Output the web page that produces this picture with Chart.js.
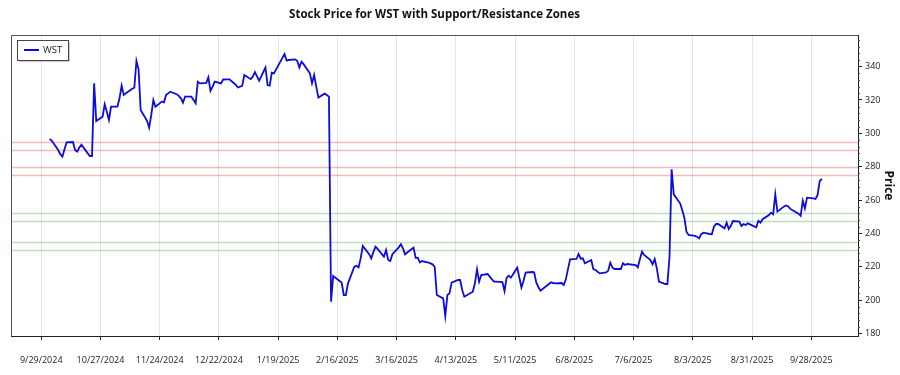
<!DOCTYPE html>
<html>
<head>
<meta charset="utf-8">
<script src="https://cdn.jsdelivr.net/npm/chart.js@4.4.1/dist/chart.umd.min.js"></script>
<style>
  html, body { margin: 0; padding: 0; background: #fff; }
  #wrap { width: 900px; height: 375px; }
</style>
</head>
<body>
<div id="wrap"><canvas id="chartWST"></canvas></div>
<script>
const chartTitle = "Stock Price for WST with Support/Resistance Zones";
const seriesName = "WST";
const axisTitle = "Price";

// trading window, weekends and these market holidays are skipped
const firstDay = "2024-10-03";
const lastDay = "2025-10-03";
const holidays = ["2024-11-28", "2024-12-25", "2025-01-01", "2025-01-09", "2025-01-20",
    "2025-02-17", "2025-04-18", "2025-05-26", "2025-06-19", "2025-07-04", "2025-09-01"];

// closing prices, one per trading day (week by week)
const prices = [
    296.6, 295.5,
    290, 287.5, 286, 290.5, 294.6,
    294.8, 290, 289, 291.5, 293.2,
    288, 286.4, 286.4, 330, 307.4,
    310, 317.4, 313, 308, 316,
    316, 321, 328.6, 323, 324,
    326.7, 327.4, 343.4, 338.5, 314,
    307.5, 303.4, 311, 320, 316,
    319, 318.6, 323, 325,
    323.5, 322.5, 321, 318.4, 322,
    322, 320, 318, 331, 330,
    330.3, 333.6, 325.5, 328, 331,
    330, 332.3, 332.4, 332.4,
    329, 327.5, 328.5, 335,
    332.5, 334, 336.8, 331.6,
    339.5, 329, 328.6, 336.4, 336,
    345.3, 347.6, 343.6, 344,
    344.4, 343.5, 339.5, 343, 341.5,
    336, 330, 335, 328, 321.5,
    323.8, 323, 322, 199, 214.4,
    210.5, 203, 203, 210,
    220, 220.5, 219.5, 225, 232.4,
    227.5, 225, 228.7, 232, 230.7,
    226, 230, 224, 223.4, 227.5,
    231.6, 233.5, 231, 227.4, 228.5,
    231.5, 225.3, 225.4, 222.5, 223.4,
    222.5, 222, 221.4, 219.8, 203,
    201, 190.4, 203, 204, 210.4,
    212, 212, 206, 202,
    205, 210, 218.4, 211, 215,
    215.6, 214, 212.5, 211, 211,
    210.8, 205.4, 213.4, 214.6, 213.4,
    219.4, 213.5, 207.5, 211.5, 216.5,
    216.8, 216.6, 210.5, 207.8, 205.6,
    209.6, 210.6, 210.2, 210,
    210.2, 209, 212.4, 218.5, 224.4,
    224.6, 227.6, 224.8, 225, 222,
    224, 218.6, 218, 216,
    216.5, 217.5, 222.4, 219.5, 218.6,
    218.6, 222, 221, 221.6,
    221, 219.6, 224.5, 229, 227,
    224, 221.4, 224.6, 219, 211,
    209.6, 209.6, 226, 278.4, 263.4,
    258, 254, 249.5, 241, 239,
    238.5, 238, 237, 239.5, 240.4,
    239.6, 239.4, 244, 245.6, 245.6,
    243, 246.4, 242.6, 244.5, 247.4,
    247, 244.4, 245.6, 245, 246,
    243.6, 247.5, 246.4, 248.5,
    251, 252.4, 251.4, 263.4, 253,
    256, 256.7, 256.3, 254.8, 254,
    251.8, 250.5, 259.6, 255, 261.4,
    261, 260.6, 263, 271.4, 272.6
];

const resistanceLevels = [275, 280, 290, 295];
const supportLevels = [230, 235, 247.5, 252];

const tickDates = ["2024-09-29", "2024-10-27", "2024-11-24", "2024-12-22", "2025-01-19",
    "2025-02-16", "2025-03-16", "2025-04-13", "2025-05-11", "2025-06-08",
    "2025-07-06", "2025-08-03", "2025-08-31", "2025-09-28"];
const priceTicks = [180, 200, 220, 240, 260, 280, 300, 320, 340];
const minorStep = 4;

const FONT = "'Open Sans', 'Noto Sans', sans-serif";

function dayNum(s) {
    const [y, m, d] = s.split("-").map(Number);
    return Date.UTC(y, m - 1, d) / 864e5;
}

function fmtDay(n) {
    const d = new Date(Math.round(n) * 864e5);
    return (d.getUTCMonth() + 1) + "/" + d.getUTCDate() + "/" + d.getUTCFullYear();
}

function tradingDays(from, to) {
    const out = [];
    for (let n = dayNum(from); n <= dayNum(to); n++) {
        const d = new Date(n * 864e5);
        const wd = d.getUTCDay();
        if (wd === 0 || wd === 6) continue;
        if (holidays.includes(d.toISOString().slice(0, 10))) continue;
        out.push(n);
    }
    return out;
}

const days = tradingDays(firstDay, lastDay);
if (days.length !== prices.length) console.warn("days/prices mismatch", days.length, prices.length);
const points = prices.slice(0, days.length).map((p, i) => ({ x: days[i], y: p }));

const axisStart = dayNum(tickDates[0]);

// horizontal zone lines across the plot
const zonePlugin = {
    id: "zones",
    beforeDatasetsDraw(chart) {
        const { ctx, chartArea: a, scales: { y } } = chart;
        ctx.save();
        ctx.lineWidth = 1.6;
        const draw = (levels, color) => {
            ctx.strokeStyle = color;
            levels.forEach(v => {
                const py = Math.round(y.getPixelForValue(v)) + 0.5;
                ctx.beginPath();
                ctx.moveTo(a.left, py);
                ctx.lineTo(a.right, py);
                ctx.stroke();
            });
        };
        draw(resistanceLevels, "rgba(235, 60, 60, 0.35)");
        draw(supportLevels, "rgba(40, 150, 40, 0.3)");
        ctx.restore();
    }
};

// frame, minor ticks, title and the boxed legend
const decorPlugin = {
    id: "decor",
    afterDraw(chart) {
        const { ctx, chartArea: a, scales: { y } } = chart;
        ctx.save();

        ctx.strokeStyle = "#555";
        ctx.lineWidth = 1;
        ctx.beginPath();
        ctx.moveTo(a.left + 0.5, a.bottom);
        ctx.lineTo(a.left + 0.5, a.top + 0.5);
        ctx.lineTo(a.right, a.top + 0.5);
        ctx.stroke();

        ctx.strokeStyle = "#444";
        for (let v = priceTicks[0]; v <= y.max; v += minorStep) {
            if (priceTicks.includes(v)) continue;
            const py = Math.round(y.getPixelForValue(v)) + 0.5;
            ctx.beginPath();
            ctx.moveTo(a.right, py);
            ctx.lineTo(a.right + 2, py);
            ctx.stroke();
        }

        ctx.fillStyle = "#111";
        ctx.font = "bold 11.5px " + FONT;
        ctx.textAlign = "center";
        ctx.textBaseline = "middle";
        ctx.fillText(chartTitle, (a.left + a.right) / 2, 15);

        const ds = chart.data.datasets[0];
        const bx = a.left + 6, by = a.top + 5, bw = 51, bh = 20;
        ctx.fillStyle = "rgba(0,0,0,0.2)";
        ctx.fillRect(bx + 2, by + 2, bw, bh);
        ctx.fillStyle = "#fff";
        ctx.fillRect(bx, by, bw, bh);
        ctx.strokeStyle = "#444";
        ctx.strokeRect(bx + 0.5, by + 0.5, bw, bh);
        ctx.strokeStyle = ds.borderColor;
        ctx.lineWidth = 2;
        ctx.beginPath();
        ctx.moveTo(bx + 7, by + 10);
        ctx.lineTo(bx + 22, by + 10);
        ctx.stroke();
        ctx.fillStyle = "#222";
        ctx.font = "9.5px " + FONT;
        ctx.textAlign = "left";
        ctx.fillText(ds.label, bx + 26, by + 10.5);

        ctx.restore();
    }
};

new Chart(document.getElementById("chartWST"), {
    type: "line",
    data: {
        datasets: [{
            label: seriesName,
            data: points,
            borderColor: "rgb(12, 12, 220)",
            borderWidth: 1.8,
            pointRadius: 0,
            tension: 0
        }]
    },
    options: {
        responsive: true,
        maintainAspectRatio: false,
        animation: false,
        layout: { padding: { left: 11, top: 35, right: 0, bottom: 0 } },
        plugins: {
            legend: { display: false },
            title: { display: false },
            tooltip: { enabled: false }
        },
        scales: {
            x: {
                type: "linear",
                min: axisStart - 14.3,
                max: axisStart + 386.1,
                afterBuildTicks: scale => {
                    scale.ticks = tickDates.map(s => ({ value: dayNum(s) }));
                },
                afterFit: scale => { scale.height = 39; },
                ticks: {
                    autoSkip: false,
                    maxRotation: 0,
                    padding: 15,
                    color: "#222",
                    font: { family: FONT, size: 9 },
                    callback: v => fmtDay(v)
                },
                grid: {
                    color: "#e3e3e3",
                    tickColor: "#222",
                    tickLength: 4
                },
                border: { display: true, color: "#222", width: 1 }
            },
            y: {
                position: "right",
                min: 178.4,
                max: 359,
                afterBuildTicks: scale => {
                    scale.ticks = priceTicks.map(v => ({ value: v }));
                },
                afterFit: scale => { scale.width = 42; },
                ticks: {
                    padding: 3,
                    color: "#222",
                    font: { family: FONT, size: 9 }
                },
                grid: {
                    drawOnChartArea: false,
                    tickColor: "#222",
                    tickLength: 4
                },
                border: { display: true, color: "#222", width: 1 },
                title: {
                    display: true,
                    text: axisTitle,
                    color: "#111",
                    font: { family: FONT, size: 12, weight: "bold" }
                }
            }
        }
    },
    plugins: [zonePlugin, decorPlugin]
});
</script>
</body>
</html>
